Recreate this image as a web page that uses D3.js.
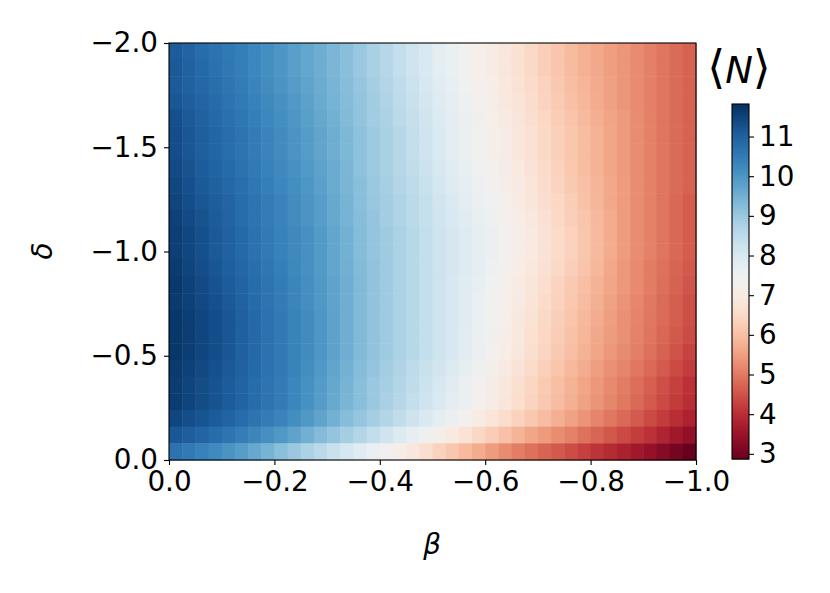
<!DOCTYPE html>
<html lang="en">
<head>
<meta charset="utf-8">
<script src="https://d3js.org/d3.v7.min.js"></script>
<style>
  body { margin: 0; background: #fff; }
  svg { display: block; }
  .tick text { font-family: "DejaVu Sans", sans-serif; font-size: 27.8px; fill: #000; }
  .tick line { stroke: #000; stroke-width: 1.1; }
  .domain { display: none; }
  .math { font-family: "DejaVu Sans", sans-serif; font-style: italic; font-size: 27.8px; fill: #000; }
</style>
</head>
<body>
<svg width="830" height="593"></svg>
<script>
// cell centres
const beta = [-0.0125, -0.0375, -0.0625, -0.0875, -0.1125, -0.1375, -0.1625, -0.1875, -0.2125, -0.2375,
              -0.2625, -0.2875, -0.3125, -0.3375, -0.3625, -0.3875, -0.4125, -0.4375, -0.4625, -0.4875,
              -0.5125, -0.5375, -0.5625, -0.5875, -0.6125, -0.6375, -0.6625, -0.6875, -0.7125, -0.7375,
              -0.7625, -0.7875, -0.8125, -0.8375, -0.8625, -0.8875, -0.9125, -0.9375, -0.9625, -0.9875];
const delta = [-1.96, -1.88, -1.80, -1.72, -1.64, -1.56, -1.48, -1.40, -1.32, -1.24, -1.16, -1.08, -1.00,
               -0.92, -0.84, -0.76, -0.68, -0.60, -0.52, -0.44, -0.36, -0.28, -0.20, -0.12, -0.04];
// <N>, one row per delta (top to bottom), one value per beta
const meanN = [
  [11.08, 10.93, 10.78, 10.65, 10.55, 10.43, 10.28, 10.13, 9.98, 9.83, 9.68, 9.53, 9.38, 9.2, 9.0, 8.8, 8.6, 8.4, 8.2, 8.0, 7.8, 7.6, 7.4, 7.21, 7.04, 6.86, 6.69, 6.5, 6.3, 6.11, 5.94, 5.78, 5.63, 5.49, 5.36, 5.23, 5.08, 4.94, 4.81, 4.69],
  [11.13, 10.98, 10.83, 10.69, 10.56, 10.43, 10.28, 10.13, 9.98, 9.83, 9.68, 9.53, 9.38, 9.2, 9.0, 8.8, 8.6, 8.4, 8.2, 8.0, 7.8, 7.6, 7.4, 7.21, 7.04, 6.86, 6.69, 6.5, 6.3, 6.11, 5.94, 5.78, 5.63, 5.49, 5.36, 5.23, 5.08, 4.94, 4.81, 4.69],
  [11.11, 10.99, 10.86, 10.74, 10.61, 10.48, 10.33, 10.18, 10.03, 9.88, 9.73, 9.58, 9.43, 9.25, 9.05, 8.85, 8.65, 8.45, 8.25, 8.05, 7.85, 7.65, 7.45, 7.26, 7.09, 6.91, 6.74, 6.55, 6.35, 6.16, 5.99, 5.83, 5.68, 5.53, 5.38, 5.23, 5.08, 4.94, 4.81, 4.69],
  [11.16, 11.04, 10.91, 10.79, 10.66, 10.53, 10.38, 10.23, 10.08, 9.93, 9.78, 9.61, 9.44, 9.26, 9.09, 8.9, 8.7, 8.5, 8.3, 8.1, 7.9, 7.7, 7.5, 7.31, 7.14, 6.96, 6.79, 6.6, 6.4, 6.21, 6.04, 5.86, 5.69, 5.53, 5.38, 5.23, 5.08, 4.94, 4.81, 4.69],
  [11.28, 11.13, 10.98, 10.84, 10.71, 10.58, 10.43, 10.28, 10.13, 9.98, 9.83, 9.66, 9.49, 9.3, 9.1, 8.91, 8.74, 8.55, 8.35, 8.15, 7.95, 7.75, 7.55, 7.36, 7.19, 7.01, 6.84, 6.65, 6.45, 6.26, 6.09, 5.91, 5.74, 5.58, 5.43, 5.26, 5.09, 4.94, 4.81, 4.69],
  [11.33, 11.18, 11.03, 10.89, 10.76, 10.63, 10.48, 10.33, 10.18, 10.03, 9.88, 9.71, 9.54, 9.35, 9.15, 8.96, 8.79, 8.6, 8.4, 8.2, 8.0, 7.8, 7.6, 7.41, 7.24, 7.06, 6.89, 6.7, 6.5, 6.31, 6.14, 5.96, 5.79, 5.61, 5.44, 5.26, 5.09, 4.94, 4.81, 4.69],
  [11.33, 11.18, 11.03, 10.89, 10.76, 10.63, 10.48, 10.33, 10.18, 10.03, 9.88, 9.71, 9.54, 9.35, 9.15, 8.96, 8.79, 8.6, 8.4, 8.2, 8.0, 7.8, 7.6, 7.41, 7.24, 7.06, 6.89, 6.7, 6.5, 6.31, 6.14, 5.96, 5.79, 5.61, 5.44, 5.26, 5.09, 4.94, 4.81, 4.69],
  [11.38, 11.23, 11.08, 10.94, 10.81, 10.68, 10.53, 10.38, 10.23, 10.08, 9.93, 9.76, 9.59, 9.39, 9.16, 8.96, 8.79, 8.61, 8.44, 8.25, 8.05, 7.85, 7.65, 7.46, 7.29, 7.11, 6.94, 6.75, 6.55, 6.35, 6.15, 5.96, 5.79, 5.61, 5.44, 5.26, 5.09, 4.94, 4.81, 4.69],
  [11.43, 11.28, 11.13, 10.99, 10.86, 10.73, 10.58, 10.43, 10.28, 10.13, 9.98, 9.8, 9.6, 9.4, 9.2, 9.01, 8.84, 8.66, 8.49, 8.3, 8.1, 7.9, 7.7, 7.51, 7.34, 7.16, 6.99, 6.8, 6.6, 6.4, 6.2, 6.01, 5.84, 5.65, 5.45, 5.26, 5.09, 4.94, 4.81, 4.69],
  [11.48, 11.33, 11.18, 11.04, 10.91, 10.78, 10.63, 10.48, 10.33, 10.18, 10.03, 9.85, 9.65, 9.44, 9.21, 9.03, 8.88, 8.71, 8.54, 8.35, 8.15, 7.96, 7.79, 7.61, 7.44, 7.25, 7.05, 6.85, 6.65, 6.45, 6.25, 6.05, 5.85, 5.65, 5.45, 5.26, 5.09, 4.93, 4.78, 4.63],
  [11.53, 11.38, 11.23, 11.08, 10.93, 10.78, 10.63, 10.48, 10.33, 10.18, 10.03, 9.85, 9.65, 9.45, 9.25, 9.06, 8.89, 8.71, 8.54, 8.36, 8.19, 8.01, 7.84, 7.66, 7.49, 7.3, 7.1, 6.9, 6.7, 6.5, 6.3, 6.1, 5.9, 5.69, 5.46, 5.26, 5.09, 4.93, 4.78, 4.63],
  [11.58, 11.43, 11.28, 11.13, 10.98, 10.83, 10.68, 10.53, 10.38, 10.23, 10.08, 9.9, 9.7, 9.49, 9.26, 9.08, 8.93, 8.76, 8.59, 8.41, 8.24, 8.06, 7.89, 7.71, 7.54, 7.35, 7.15, 6.95, 6.75, 6.55, 6.35, 6.14, 5.91, 5.69, 5.46, 5.26, 5.09, 4.93, 4.78, 4.63],
  [11.58, 11.43, 11.28, 11.13, 10.98, 10.83, 10.68, 10.53, 10.38, 10.23, 10.08, 9.9, 9.7, 9.49, 9.26, 9.08, 8.93, 8.76, 8.59, 8.41, 8.24, 8.06, 7.89, 7.71, 7.54, 7.35, 7.15, 6.95, 6.75, 6.55, 6.35, 6.14, 5.91, 5.69, 5.46, 5.26, 5.09, 4.93, 4.78, 4.63],
  [11.63, 11.48, 11.33, 11.18, 11.03, 10.88, 10.73, 10.58, 10.43, 10.26, 10.09, 9.9, 9.7, 9.5, 9.3, 9.11, 8.94, 8.76, 8.59, 8.41, 8.24, 8.06, 7.89, 7.7, 7.5, 7.3, 7.1, 6.9, 6.7, 6.5, 6.3, 6.09, 5.86, 5.64, 5.41, 5.21, 5.04, 4.88, 4.73, 4.58],
  [11.68, 11.53, 11.38, 11.23, 11.08, 10.93, 10.78, 10.63, 10.48, 10.31, 10.14, 9.95, 9.75, 9.54, 9.31, 9.11, 8.94, 8.76, 8.59, 8.41, 8.24, 8.05, 7.85, 7.65, 7.45, 7.25, 7.05, 6.84, 6.61, 6.4, 6.2, 6.0, 5.8, 5.6, 5.4, 5.21, 5.04, 4.86, 4.69, 4.51],
  [11.66, 11.54, 11.41, 11.28, 11.13, 10.96, 10.79, 10.63, 10.48, 10.31, 10.14, 9.95, 9.75, 9.54, 9.31, 9.11, 8.94, 8.76, 8.59, 8.41, 8.24, 8.05, 7.85, 7.64, 7.41, 7.2, 7.0, 6.79, 6.56, 6.35, 6.15, 5.95, 5.75, 5.55, 5.35, 5.16, 4.99, 4.81, 4.64, 4.46],
  [11.71, 11.59, 11.46, 11.33, 11.18, 11.01, 10.84, 10.68, 10.53, 10.36, 10.19, 9.99, 9.76, 9.54, 9.31, 9.11, 8.94, 8.76, 8.59, 8.41, 8.24, 8.05, 7.85, 7.64, 7.41, 7.19, 6.96, 6.74, 6.51, 6.3, 6.1, 5.9, 5.7, 5.5, 5.3, 5.13, 4.98, 4.81, 4.64, 4.46],
  [11.71, 11.59, 11.46, 11.33, 11.18, 11.01, 10.84, 10.68, 10.53, 10.36, 10.19, 9.99, 9.76, 9.54, 9.31, 9.11, 8.94, 8.76, 8.59, 8.41, 8.24, 8.04, 7.81, 7.59, 7.36, 7.14, 6.91, 6.69, 6.46, 6.25, 6.05, 5.85, 5.65, 5.46, 5.29, 5.11, 4.94, 4.76, 4.59, 4.41],
  [11.71, 11.59, 11.46, 11.33, 11.18, 11.01, 10.84, 10.68, 10.53, 10.36, 10.19, 9.99, 9.76, 9.54, 9.31, 9.11, 8.94, 8.76, 8.59, 8.41, 8.24, 8.04, 7.81, 7.58, 7.33, 7.09, 6.86, 6.64, 6.41, 6.2, 6.0, 5.8, 5.6, 5.41, 5.24, 5.06, 4.89, 4.7, 4.5, 4.3],
  [11.66, 11.54, 11.41, 11.28, 11.13, 10.98, 10.83, 10.68, 10.53, 10.35, 10.15, 9.94, 9.71, 9.49, 9.26, 9.06, 8.89, 8.7, 8.5, 8.31, 8.14, 7.94, 7.71, 7.48, 7.23, 6.99, 6.76, 6.54, 6.31, 6.1, 5.9, 5.7, 5.5, 5.31, 5.14, 4.96, 4.79, 4.6, 4.4, 4.2],
  [11.61, 11.49, 11.36, 11.23, 11.08, 10.93, 10.78, 10.63, 10.48, 10.3, 10.1, 9.89, 9.66, 9.44, 9.21, 9.01, 8.84, 8.65, 8.45, 8.25, 8.05, 7.83, 7.58, 7.34, 7.11, 6.89, 6.66, 6.44, 6.21, 6.0, 5.8, 5.6, 5.4, 5.21, 5.04, 4.85, 4.65, 4.45, 4.25, 4.05],
  [11.61, 11.49, 11.36, 11.23, 11.08, 10.93, 10.78, 10.63, 10.48, 10.3, 10.1, 9.88, 9.63, 9.4, 9.2, 9.0, 8.8, 8.6, 8.4, 8.2, 8.0, 7.78, 7.53, 7.29, 7.06, 6.84, 6.61, 6.39, 6.16, 5.95, 5.75, 5.55, 5.35, 5.16, 4.99, 4.8, 4.6, 4.4, 4.2, 4.0],
  [11.46, 11.34, 11.21, 11.08, 10.93, 10.78, 10.63, 10.48, 10.33, 10.15, 9.95, 9.73, 9.48, 9.25, 9.05, 8.85, 8.65, 8.44, 8.21, 7.99, 7.76, 7.53, 7.28, 7.04, 6.81, 6.59, 6.36, 6.15, 5.95, 5.75, 5.55, 5.35, 5.15, 4.96, 4.79, 4.6, 4.4, 4.2, 4.0, 3.8],
  [11.16, 11.04, 10.91, 10.78, 10.63, 10.46, 10.29, 10.11, 9.94, 9.74, 9.51, 9.29, 9.06, 8.85, 8.65, 8.43, 8.18, 7.94, 7.71, 7.48, 7.23, 6.98, 6.73, 6.49, 6.26, 6.04, 5.81, 5.61, 5.44, 5.26, 5.09, 4.91, 4.74, 4.56, 4.39, 4.21, 4.04, 3.84, 3.61, 3.39],
  [10.68, 10.53, 10.38, 10.21, 10.04, 9.85, 9.65, 9.44, 9.21, 8.99, 8.76, 8.54, 8.31, 8.09, 7.86, 7.63, 7.38, 7.13, 6.88, 6.63, 6.38, 6.14, 5.91, 5.69, 5.46, 5.25, 5.05, 4.88, 4.73, 4.58, 4.43, 4.26, 4.09, 3.93, 3.78, 3.61, 3.44, 3.25, 3.05, 2.85]
];
const xTicks = [0, -0.2, -0.4, -0.6, -0.8, -1.0];
const yTicks = [0, -0.5, -1.0, -1.5, -2.0];
const cTicks = [3, 4, 5, 6, 7, 8, 9, 10, 11];
const cRange = [2.87, 11.82];

const svg = d3.select('svg');
const plot = { left: 169, right: 696, top: 43, bottom: 460 };
const halfB = 0.0125, halfD = 0.04;

const x = d3.scaleLinear().domain([0, -1]).range([plot.left, plot.right]);
const y = d3.scaleLinear().domain([0, -2]).range([plot.bottom, plot.top]);
const color = d3.scaleSequential(d3.interpolateRdBu).domain(cRange);

// heatmap cells
const cells = [];
meanN.forEach((row, j) => row.forEach((v, i) => cells.push({ b: beta[i], d: delta[j], v: v })));

svg.append('g').selectAll('rect').data(cells)
  .enter().append('rect')
    .attr('x', c => x(c.b + halfB))
    .attr('y', c => y(c.d - halfD))
    .attr('width', c => x(c.b - halfB) - x(c.b + halfB) + 0.5)
    .attr('height', c => y(c.d + halfD) - y(c.d - halfD) + 0.5)
    .attr('fill', c => color(c.v));

svg.append('rect')
  .attr('x', plot.left).attr('y', plot.top)
  .attr('width', plot.right - plot.left).attr('height', plot.bottom - plot.top)
  .attr('fill', 'none').attr('stroke', '#000').attr('stroke-width', 1.1);

const fmt = d3.format('.1f');
svg.append('g')
  .attr('transform', `translate(0,${plot.bottom})`)
  .call(d3.axisBottom(x).tickValues(xTicks).tickFormat(fmt).tickSize(5).tickPadding(6));
svg.append('g')
  .attr('transform', `translate(${plot.left},0)`)
  .call(d3.axisLeft(y).tickValues(yTicks).tickFormat(fmt).tickSize(5).tickPadding(6));

svg.append('text').attr('class', 'math')
  .attr('x', 432).attr('y', 554).attr('text-anchor', 'middle').text('β');
svg.append('text').attr('class', 'math')
  .attr('transform', 'translate(52,251) rotate(-90)')
  .attr('text-anchor', 'middle').text('δ');

// colorbar
const cb = { left: 732, right: 749, top: 104, bottom: 459 };
const cy = d3.scaleLinear().domain(cRange).range([cb.bottom, cb.top]);
const steps = d3.range(cb.top, cb.bottom, 1);
svg.append('g').selectAll('rect').data(steps)
  .enter().append('rect')
    .attr('x', cb.left).attr('y', p => p)
    .attr('width', cb.right - cb.left).attr('height', 1.5)
    .attr('fill', p => color(cy.invert(p + 0.5)));
svg.append('rect')
  .attr('x', cb.left).attr('y', cb.top)
  .attr('width', cb.right - cb.left).attr('height', cb.bottom - cb.top)
  .attr('fill', 'none').attr('stroke', '#000').attr('stroke-width', 1.1);
svg.append('g')
  .attr('transform', `translate(${cb.right},0)`)
  .call(d3.axisRight(cy).tickValues(cTicks).tickFormat(d3.format('d')).tickSize(5).tickPadding(5));

const lab = svg.append('text').attr('x', 739).attr('y', 83)
  .attr('text-anchor', 'middle')
  .style('font-family', '"DejaVu Sans", sans-serif');
lab.append('tspan').style('font-size', '46px').text('⟨');
lab.append('tspan').style('font-size', '37px').style('font-style', 'italic').text('N');
lab.append('tspan').style('font-size', '46px').text('⟩');
</script>
</body>
</html>
